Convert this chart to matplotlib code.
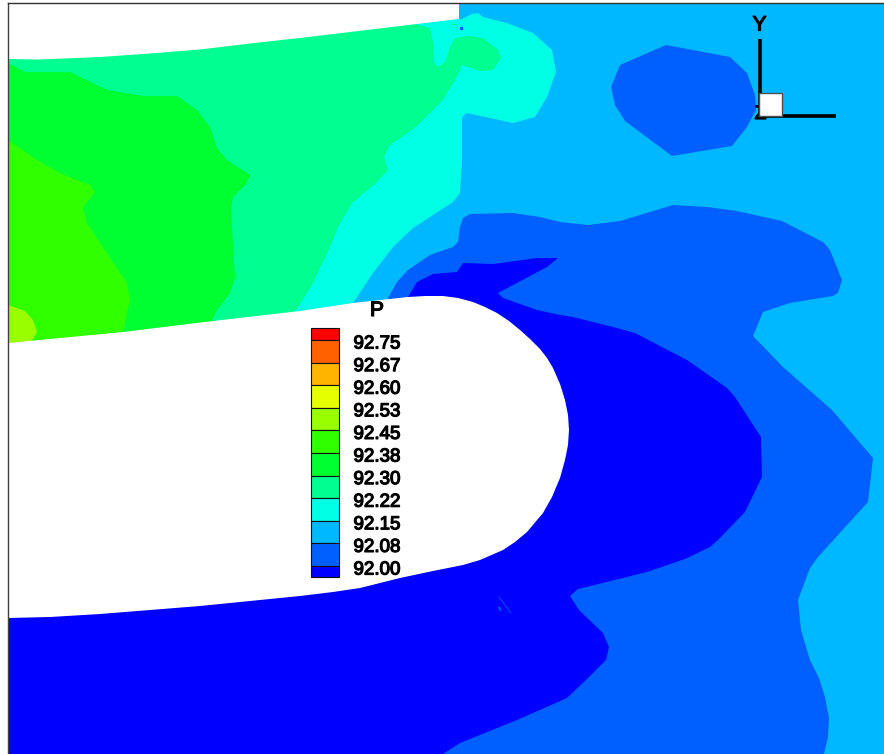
import matplotlib
matplotlib.use('Agg')
import matplotlib.pyplot as plt
import matplotlib.patheffects as pe

plt.rcParams['font.family'] = ['Liberation Sans', 'DejaVu Sans']

# contour boundaries (x, y in image pixels)
frame = [(8, 3), (884, 3), (884, 754), (8, 754)]
cyan_zone = [(8, 30), (455, 10), (460, 20), (472, 14), (478, 13), (483, 17), (507, 23), (533, 33),
             (552, 50), (556, 72), (547, 97), (535, 117), (513, 123), (467, 113), (462, 117),
             (462, 130), (462, 163), (460, 193), (453, 202), (413, 228), (393, 247), (373, 273),
             (353, 303), (350, 330), (8, 350)]
spring_zone = [(8, 30), (415, 10), (415, 24), (430, 28), (433, 43), (434, 62), (438, 67), (445, 62),
               (450, 47), (455, 38), (468, 36), (483, 38), (498, 50), (501, 58), (493, 70), (480, 71),
               (462, 65), (455, 80), (443, 100), (420, 123), (412, 130), (390, 145), (384, 157),
               (388, 170), (377, 182), (352, 203), (338, 227), (330, 247), (313, 283), (295, 312),
               (290, 330), (8, 350)]
green_zone = [(8, 63), (25, 72), (70, 72), (107, 90), (143, 96), (177, 96), (197, 110), (210, 127),
              (217, 148), (227, 160), (250, 175), (247, 183), (233, 197), (231, 210), (233, 247),
              (235, 277), (230, 293), (217, 310), (212, 321), (205, 335), (8, 350)]
lawn_zone = [(8, 140), (37, 160), (60, 173), (90, 185), (95, 192), (83, 207), (87, 223), (107, 253),
             (127, 283), (130, 300), (123, 332), (118, 345), (8, 350)]
lime_zone = [(8, 305), (25, 311), (33, 320), (37, 332), (31, 342), (28, 350), (8, 350)]
blue_zone = [(824, 754), (828, 737), (829, 718), (825, 697), (819, 678), (810, 660), (801, 630),
             (798, 600), (810, 568), (818, 557), (868, 502), (873, 458), (832, 410), (783, 367),
             (753, 336), (763, 312), (790, 303), (833, 296), (838, 293), (842, 280), (830, 250),
             (823, 242), (782, 221), (737, 211), (707, 207), (673, 205), (620, 221), (588, 225),
             (560, 222), (540, 217), (513, 213), (470, 214), (463, 218), (460, 227), (458, 242),
             (453, 247), (430, 255), (408, 270), (397, 282), (388, 298), (385, 320), (8, 500),
             (8, 754)]
blue_blob = [(666, 45), (730, 57), (747, 73), (755, 95), (756, 110), (747, 127), (732, 146),
             (672, 156), (625, 121), (615, 105), (611, 87), (620, 65)]
deep_zone = [(408, 297), (417, 282), (433, 274), (457, 272), (463, 263), (493, 264), (537, 258),
             (558, 258), (547, 267), (498, 293), (503, 298), (537, 310), (560, 315), (573, 317),
             (613, 327), (635, 333), (687, 360), (727, 388), (735, 397), (761, 437), (762, 477),
             (745, 512), (718, 540), (710, 547), (685, 559), (647, 572), (578, 589), (570, 596),
             (579, 610), (603, 633), (609, 647), (606, 660), (588, 678), (567, 698), (517, 720),
             (460, 743), (443, 754), (8, 754), (8, 500), (405, 320)]
speck_a = [(498.5, 597), (499.5, 597), (511.5, 613), (510.5, 613)]
speck_b = [(498, 606), (500, 607), (502, 611), (499, 610)]
speck_c = [(459.5, 27), (462.5, 27), (462.5, 30), (459.5, 30)]
speck_d = [(452, 23.5), (457, 23.5), (457, 25), (452, 25)]

channel = [(8, 3), (459, 3), (459, 19), (400, 26), (350, 32), (300, 38), (250, 43.5), (200, 49.5),
           (150, 53.5), (100, 57), (40, 59.5), (8, 59)]
blade = [(8, 343), (123, 332), (213, 321), (300, 311), (353, 303), (408, 297), (425, 296), (443, 296),
         (458, 298), (473, 302), (485, 307), (497, 313), (509, 321), (520, 330), (530, 339), (540, 349),
         (547, 358), (553, 368), (560, 384), (565, 400), (568, 415), (569, 430), (568, 445), (565, 460),
         (560, 478), (552, 497), (543, 513), (527, 532), (515, 542), (503, 550), (480, 560),
         (463, 565), (433, 571), (400, 578), (360, 588), (333, 592), (300, 596), (200, 606), (100, 614),
         (50, 617), (8, 618)]

c_deep = '#0000FF'
c_blue = '#0060FF'
c_sky = '#00B8FF'
c_cyan = '#00FFE5'
c_spring = '#00FF90'
c_green = '#00FF30'
c_lawn = '#30FF00'
c_lime = '#99FF00'

# legend
legend_levels = ['92.75', '92.67', '92.60', '92.53', '92.45', '92.38',
                 '92.30', '92.22', '92.15', '92.08', '92.00']
legend_colors = ['#FF0000', '#FF6000', '#FFB400', '#E5FF00', '#99FF00', '#30FF00',
                 '#00FF30', '#00FF90', '#00FFE5', '#00B8FF', '#0060FF', '#0000FF']

fig = plt.figure(figsize=(8.84, 7.54), dpi=100)
ax = fig.add_axes([0, 0, 1, 1])
ax.set_xlim(0, 884)
ax.set_ylim(754, 0)
ax.axis('off')

layers = [(frame, c_sky), (cyan_zone, c_cyan), (spring_zone, c_spring), (green_zone, c_green),
          (lawn_zone, c_lawn), (lime_zone, c_lime), (blue_zone, c_blue), (blue_blob, c_blue),
          (deep_zone, c_deep), (speck_a, c_blue), (speck_b, c_blue), (speck_c, c_blue),
          (speck_d, c_spring), (channel, 'white'), (blade, 'white')]
for poly, col in layers:
    ax.fill([p[0] for p in poly], [p[1] for p in poly], color=col, linewidth=0)

# frame lines
ax.plot([8, 8], [3, 754], color='#404040', lw=1)
ax.plot([8, 884], [3, 3], color='#303030', lw=1)

heavy = [pe.withStroke(linewidth=0.9, foreground='black')]

# axis triad
ax.plot([759.5, 759.5], [39, 116], color='black', lw=2.6, solid_capstyle='butt')
ax.plot([759, 836], [115.7, 115.7], color='black', lw=2.6, solid_capstyle='butt')
ax.text(759.5, 25, 'Y', fontsize=15, ha='center', va='center', color='black', path_effects=heavy)
ax.text(760.5, 114.5, 'Z', fontsize=14, ha='center', va='center', color='black', path_effects=heavy)
ax.fill([759, 782, 782, 759], [93, 93, 116, 116], facecolor='white', edgecolor='#505050', lw=1, zorder=3)

# legend bar
ax.text(377, 310.5, 'P', fontsize=15, ha='center', va='center', color='black', path_effects=heavy)
legend_edges = [328] + [340 + 22.6 * i for i in range(11)] + [577]
for i, col in enumerate(legend_colors):
    ax.fill([311, 339, 339, 311], [legend_edges[i], legend_edges[i], legend_edges[i + 1], legend_edges[i + 1]],
            facecolor=col, edgecolor='#101010', lw=0.8)
for i, lab in enumerate(legend_levels):
    ax.text(353.5, 344 + 22.6 * i, lab, fontsize=13.5, ha='left', va='center', color='black', path_effects=heavy)

fig.savefig('out.png', dpi=100)
